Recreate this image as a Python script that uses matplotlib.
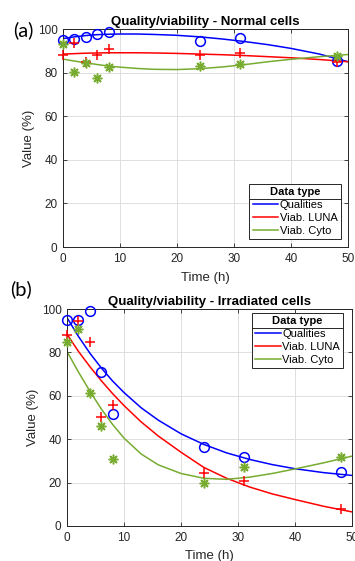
import numpy as np
import matplotlib
matplotlib.use("Agg")
import matplotlib.pyplot as plt
from matplotlib.lines import Line2D

plt.rcParams['font.family'] = ['Liberation Sans', 'DejaVu Sans']

# 采样时间 (h)
time_h = [0, 2, 4, 6, 8, 24, 31, 48]

# (a) 正常细胞 - 测量点
qual_norm = [95.1, 95.6, 96.2, 97.9, 98.8, 94.7, 95.9, 85.3]
luna_norm = [87.9, 93.6, 84.8, 88.3, 90.9, 87.9, 88.8, 84.8]
cyto_norm = [93.2, 80.3, 84.5, 77.7, 82.6, 83.0, 83.8, 87.5]

# (b) 辐照细胞 - 测量点
qual_irr = [95.1, 95.1, 98.9, 70.9, 51.5, 36.4, 31.7, 25.0]
luna_irr = [88.1, 94.7, 84.9, 50.4, 55.6, 24.2, 20.7, 8.0]
cyto_irr = [84.6, 90.7, 61.2, 46.2, 30.8, 20.0, 27.1, 31.9]

# 拟合曲线
fit_t = [0, 2, 4, 6, 8, 10, 13, 16, 20, 24, 28, 32, 36, 40, 45, 50]
qual_norm_fit = [95.6, 96.4, 97.0, 97.4, 97.6, 97.7, 97.7, 97.5, 97.1, 96.4, 95.4, 94.2, 92.8, 91.1, 88.5, 85.0]
luna_norm_fit = [88.5, 88.7, 88.9, 89.0, 89.1, 89.1, 89.1, 89.0, 88.8, 88.5, 88.2, 87.8, 87.3, 86.8, 86.0, 85.0]
cyto_norm_fit = [86.2, 85.3, 84.5, 83.7, 83.0, 82.5, 81.9, 81.5, 81.4, 81.8, 82.6, 83.7, 85.0, 86.1, 87.3, 88.3]
qual_irr_fit = [96.0, 87.4, 79.7, 72.9, 66.8, 61.5, 54.5, 48.8, 42.5, 37.6, 33.7, 30.7, 28.3, 26.4, 24.6, 23.3]
luna_irr_fit = [88.4, 80.5, 73.5, 67.0, 61.0, 55.5, 48.0, 41.5, 34.0, 27.0, 22.0, 18.0, 14.8, 12.2, 9.1, 6.5]
cyto_irr_fit = [80.4, 71.0, 62.2, 54.0, 46.8, 40.5, 33.2, 28.2, 24.2, 22.0, 21.5, 22.5, 24.2, 26.3, 29.1, 32.2]

labels = ['Qualities', 'Viab. LUNA', 'Viab. Cyto']
colors = ['#0000ff', '#ff0000', '#77ac30']
markers = ['o', '+', (8, 2, 0)]
gray = '#262626'


def draw(ax, data, fits, title, legend_loc, anchor):
    for vals, fit, c, m, lab in zip(data, fits, colors, markers, labels):
        ax.plot(time_h, vals, ls='none', marker=m, ms=7, mfc='none',
                mec=c, mew=1.1, clip_on=False, zorder=3)
        ax.plot(fit_t, fit, color=c, lw=1.1, label=lab, zorder=2)
    ax.set_xlim(0, 50)
    ax.set_ylim(0, 100)
    ax.set_xticks(range(0, 51, 10))
    ax.set_yticks(range(0, 101, 20))
    ax.grid(True, color='#dedede', lw=0.7)
    ax.set_axisbelow(True)
    ax.tick_params(direction='in', length=3, width=0.6, colors=gray,
                   labelsize=8.5, top=True, right=True, pad=4)
    for s in ax.spines.values():
        s.set_color(gray)
        s.set_linewidth(0.7)
    ax.set_title(title, fontsize=9.5, fontweight='bold', color='black', pad=3)
    ax.set_xlabel('Time (h)', fontsize=9.5, color=gray, labelpad=5)
    ax.set_ylabel('Value (%)', fontsize=9.5, color=gray, labelpad=2)
    leg = ax.legend(loc=legend_loc, bbox_to_anchor=anchor, title='Data type',
                    fontsize=8, title_fontproperties={'weight': 'bold', 'size': 8},
                    handlelength=2.3, handletextpad=0.15, labelspacing=0.25,
                    borderpad=0.3, borderaxespad=0, fancybox=False,
                    edgecolor=gray, framealpha=1)
    leg.get_frame().set_linewidth(0.7)
    return leg


fig = plt.figure(figsize=(3.55, 5.61), dpi=100)
ax1 = fig.add_axes([63 / 355, 1 - 247 / 561, 285 / 355, 218 / 561])
ax2 = fig.add_axes([67 / 355, 1 - 526 / 561, 285 / 355, 217 / 561])

leg1 = draw(ax1, [qual_norm, luna_norm, cyto_norm],
            [qual_norm_fit, luna_norm_fit, cyto_norm_fit],
            'Quality/viability - Normal cells', 'lower right', (0.975, 0.037))
leg2 = draw(ax2, [qual_irr, luna_irr, cyto_irr],
            [qual_irr_fit, luna_irr_fit, cyto_irr_fit],
            'Quality/viability - Irradiated cells', 'upper right', (0.97, 0.982))

fig.text(23 / 355, 1 - 30 / 561, '(a)', fontsize=14.5, family=['Lato', 'DejaVu Sans'],
         ha='center', va='center')
fig.text(21 / 355, 1 - 289 / 561, '(b)', fontsize=14.5, family=['Lato', 'DejaVu Sans'],
         ha='center', va='center')

# 图例标题下方的分隔线
fig.canvas.draw()
inv = fig.transFigure.inverted()
for leg in (leg1, leg2):
    fb = leg.get_frame().get_window_extent()
    tb = leg.get_title().get_window_extent()
    y = tb.y0 - 1.5
    (x0, yy), (x1, _) = inv.transform([(fb.x0, y), (fb.x1, y)])
    fig.add_artist(Line2D([x0, x1], [yy, yy], color=gray, lw=0.7))

fig.savefig('out.png', dpi=100)
